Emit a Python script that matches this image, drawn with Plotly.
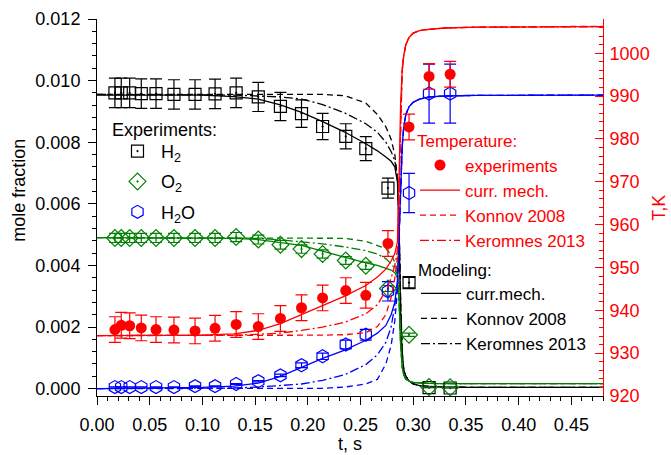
import plotly.graph_objects as go

# ---------------- data ----------------
t_exp = [0.017, 0.023, 0.031, 0.042, 0.056, 0.073, 0.093, 0.112, 0.132, 0.153,
         0.174, 0.194, 0.214, 0.236, 0.255, 0.276, 0.296, 0.315, 0.335]
h2_exp = [0.0096, 0.0096, 0.0096, 0.00958, 0.00958, 0.00955, 0.00955, 0.00957, 0.0096, 0.00947,
          0.00916, 0.00893, 0.00851, 0.00819, 0.00779, 0.00651, 0.00344, 0.00003, 0.00002]
o2_exp = [0.00489, 0.00489, 0.00489, 0.00489, 0.00489, 0.00489, 0.00489, 0.00489, 0.00492, 0.00484,
          0.00467, 0.00453, 0.00437, 0.00416, 0.00399, 0.00325, 0.00175, 0.00005, 0.00004]
h2o_exp = [0.00005, 0.00005, 0.00005, 0.00005, 0.00005, 0.00005, 0.00008, 0.00008, 0.00015, 0.00024,
           0.00043, 0.00076, 0.00105, 0.00143, 0.00175, 0.00316, 0.00635, 0.00958, 0.00958]
T_exp = [935.5, 936.5, 936.4, 935.9, 935.5, 935.4, 935.2, 935.8, 936.7, 936.2,
         938.1, 940.6, 942.9, 944.6, 943.5, 955.6, 982.8, 994.6, 995.1]

h2_err_pct = 5
o2_err_pct = 3
h2o_err_pct = 10
T_err = 3

t_mod = [0.0, 0.10, 0.13, 0.153, 0.174, 0.194, 0.214, 0.235, 0.255, 0.266, 0.274, 0.279, 0.2825,
         0.285, 0.2865, 0.288, 0.2895, 0.291, 0.293, 0.296, 0.300, 0.306, 0.315, 0.33, 0.36, 0.48]

h2_curr = [0.00953, 0.00953, 0.00948, 0.0094, 0.00921, 0.00897, 0.00867, 0.00833, 0.00795, 0.00772,
           0.00752, 0.00738, 0.0072, 0.0067, 0.0052, 0.0025, 0.0011, 0.0006, 0.0004, 0.00025,
           0.00015, 0.0001, 0.00007, 0.00005, 0.00004, 0.00004]
h2_konnov = [0.00955, 0.00955, 0.00955, 0.00955, 0.00955, 0.00955, 0.00955, 0.00951, 0.00927, 0.0089,
             0.0085, 0.0081, 0.0076, 0.0068, 0.0055, 0.003, 0.0012, 0.0006, 0.0004, 0.00025,
             0.00015, 0.0001, 0.00007, 0.00005, 0.00004, 0.00004]
h2_keromnes = [0.00955, 0.00955, 0.00953, 0.0095, 0.00947, 0.0094, 0.00922, 0.00895, 0.0086, 0.00832,
               0.008, 0.0077, 0.0074, 0.0069, 0.0054, 0.0028, 0.0012, 0.0006, 0.0004, 0.00025,
               0.00015, 0.0001, 0.00007, 0.00005, 0.00004, 0.00004]

o2_curr = [0.0049, 0.0049, 0.00488, 0.00484, 0.00475, 0.00465, 0.00446, 0.00426, 0.00408, 0.004,
           0.00392, 0.00385, 0.00376, 0.0036, 0.0029, 0.0014, 0.0007, 0.00045, 0.0003, 0.00024,
           0.0002, 0.00018, 0.00017, 0.00016, 0.00016, 0.00016]
o2_konnov = [0.0049, 0.0049, 0.0049, 0.0049, 0.0049, 0.0049, 0.0049, 0.00488, 0.00478, 0.00466,
             0.00455, 0.00435, 0.0041, 0.0038, 0.003, 0.0015, 0.0007, 0.00045, 0.0003, 0.00024,
             0.0002, 0.00018, 0.00017, 0.00016, 0.00016, 0.00016]
o2_keromnes = [0.0049, 0.0049, 0.0049, 0.00488, 0.00483, 0.00477, 0.0047, 0.0046, 0.00448, 0.00437,
               0.00422, 0.00405, 0.0039, 0.0037, 0.003, 0.0015, 0.0007, 0.00045, 0.0003, 0.00024,
               0.0002, 0.00018, 0.00017, 0.00016, 0.00016, 0.00016]

h2o_curr = [0.0, 0.00004, 0.00008, 0.00018, 0.0004, 0.0007, 0.00098, 0.00125, 0.00157, 0.0018,
            0.00205, 0.0024, 0.0028, 0.0035, 0.0052, 0.0068, 0.0079, 0.0085, 0.0089, 0.00915,
            0.0093, 0.0094, 0.00947, 0.0095, 0.00952, 0.00953]
h2o_konnov = [0.0, 0.0, 0.0, 0.0, 0.0, 0.0, 0.00001, 0.00005, 0.00015, 0.0003,
              0.0008, 0.0014, 0.0022, 0.0032, 0.0048, 0.0066, 0.0078, 0.0085, 0.0089, 0.00915,
              0.0093, 0.0094, 0.00947, 0.0095, 0.00952, 0.00953]
h2o_keromnes = [0.0, 0.0, 0.00002, 0.00005, 0.0001, 0.00015, 0.00027, 0.00045, 0.00078, 0.0011,
                0.0015, 0.002, 0.0027, 0.0034, 0.0049, 0.0067, 0.0078, 0.0085, 0.0089, 0.00915,
                0.0093, 0.0094, 0.00947, 0.0095, 0.00952, 0.00953]

T_curr = [934.1, 934.2, 934.5, 935.3, 936.9, 939.0, 941.0, 943.3, 945.8, 947.8,
          949.6, 951.5, 953.2, 956.0, 970.0, 988.0, 996.0, 999.5, 1002.0, 1003.7,
          1004.7, 1005.3, 1005.6, 1005.9, 1006.1, 1006.2]
T_konnov = [934.1, 934.1, 934.1, 934.1, 934.1, 934.1, 934.2, 934.3, 934.8, 936.2,
            939.0, 943.0, 947.5, 952.5, 968.0, 987.0, 996.0, 999.5, 1002.0, 1003.7,
            1004.7, 1005.3, 1005.6, 1005.9, 1006.1, 1006.3]
T_keromnes = [934.1, 934.1, 934.2, 934.4, 934.7, 935.3, 936.1, 937.2, 939.2, 941.3,
              944.6, 947.5, 950.5, 954.0, 969.0, 987.5, 996.0, 999.5, 1002.0, 1003.7,
              1004.7, 1005.3, 1005.6, 1005.9, 1006.1, 1006.2]

model_names_T = ["curr. mech.", "Konnov 2008", "Keromnes 2013"]
model_names_M = ["curr.mech.", "Konnov 2008", "Keromnes 2013"]

# ---------------- styles ----------------
BLACK = "#000000"
GREEN = "#008000"
BLUE = "#0000ff"
RED = "#ff0000"
DASHES = ["solid", "6px,4px", "9px,3px,2px,3px"]
LW = 1.3
FONT = "Liberation Sans, Arial, sans-serif"

fig = go.Figure()

# model curves (drawn first)
species_models = [
    (h2_curr, h2_konnov, h2_keromnes, BLACK, True),
    (o2_curr, o2_konnov, o2_keromnes, GREEN, False),
    (h2o_curr, h2o_konnov, h2o_keromnes, BLUE, False),
]
for curves_a, curves_b, curves_c, col, show in species_models:
    for i, ys in enumerate([curves_a, curves_b, curves_c]):
        fig.add_trace(go.Scatter(
            x=t_mod, y=ys, mode="lines",
            line=dict(color=col, width=LW, dash=DASHES[i]),
            name=model_names_M[i], showlegend=show, legend="legend3",
            hoverinfo="skip"))

T_models = [T_curr, T_konnov, T_keromnes]

# experiments (species)
exp_sets = [
    (h2_exp, h2_err_pct, "square-open-dot", 12, BLACK, "H<sub>2</sub>"),
    (o2_exp, o2_err_pct, "diamond-open-dot", 13, GREEN, "O<sub>2</sub>"),
    (h2o_exp, h2o_err_pct, "hexagon-open", 13, BLUE, "H<sub>2</sub>O"),
]
for k, (ys, pct, sym, sz, col, nm) in enumerate(exp_sets):
    fig.add_trace(go.Scatter(
        x=t_exp, y=ys, mode="markers", name=nm, legend="legend", legendgroup="exp%d" % k,
        marker=dict(symbol=sym, size=sz, color=col, line=dict(color=col, width=1.2)),
        error_y=dict(type="percent", value=pct, color=col, thickness=1.2, width=6)))

# temperature experiments + models on secondary axis
fig.add_trace(go.Scatter(
    x=t_exp, y=T_exp, mode="markers", name="experiments", yaxis="y2", legend="legend2",
    marker=dict(symbol="circle", size=11, color=RED),
    error_y=dict(type="constant", value=T_err, color=RED, thickness=1.2, width=6)))
for i, ys in enumerate(T_models):
    fig.add_trace(go.Scatter(
        x=t_mod, y=ys, mode="lines", yaxis="y2", legend="legend2",
        line=dict(color=RED, width=LW, dash=DASHES[i]),
        name=model_names_T[i], hoverinfo="skip"))

# ---------------- layout ----------------
W, H = 671, 455
L, R, T, B = 97, 68, 19, 58.5
pw, ph = W - L - R, H - T - B


def px(x):
    return (x - L) / pw


def py(y):
    return (H - B - y) / ph


leg_common = dict(bgcolor="rgba(0,0,0,0)", borderwidth=0, xanchor="left", yanchor="top")

fig.update_layout(
    width=W, height=H,
    margin=dict(l=L, r=R, t=T, b=B, pad=0, autoexpand=False),
    plot_bgcolor="white", paper_bgcolor="white",
    font=dict(family=FONT, size=18, color="black"),
    xaxis=dict(
        range=[0, 0.48], dtick=0.05, tick0=0, tickformat=".2f", automargin=False,
        showline=True, linecolor="black", linewidth=1, mirror=False,
        ticks="outside", ticklen=8, tickcolor="black", tickwidth=1, ticklabelstandoff=4,
        minor=dict(dtick=0.01, ticks="outside", ticklen=4, tickcolor="black"),
        showgrid=False, zeroline=False,
    ),
    yaxis=dict(
        range=[-0.00024, 0.012], dtick=0.002, tick0=0, tickformat=".3f", automargin=False,
        showline=True, linecolor="black", linewidth=1,
        ticks="outside", ticklen=8, tickcolor="black", ticklabelstandoff=4,
        minor=dict(dtick=0.0004, ticks="outside", ticklen=4, tickcolor="black"),
        showgrid=False, zeroline=False,
    ),
    yaxis2=dict(
        overlaying="y", side="right", anchor="x", automargin=False,
        range=[920, 1008], dtick=10, tick0=920,
        showline=True, linecolor=RED, linewidth=1,
        ticks="inside", ticklen=8, tickcolor=RED, ticklabelstandoff=2,
        minor=dict(dtick=2, ticks="inside", ticklen=4, tickcolor=RED),
        tickfont=dict(color=RED, size=18),
        showgrid=False, zeroline=False,
    ),
    legend=dict(x=px(114), y=py(133), font=dict(size=18, color="black"),
                traceorder="grouped", tracegroupgap=4, itemwidth=37, **leg_common),
    legend2=dict(x=px(415), y=py(125.5), font=dict(size=17, color=RED),
                 title=dict(text="Temperature:", font=dict(size=17, color=RED)),
                 traceorder="normal", itemwidth=40, **leg_common),
    legend3=dict(x=px(416), y=py(254), font=dict(size=17, color="black"),
                 title=dict(text="Modeling:", font=dict(size=17, color="black")),
                 traceorder="normal", itemwidth=40, **leg_common),
    showlegend=True,
    annotations=[
        dict(text="Experiments:", xref="paper", yref="paper", x=px(110), y=py(130),
             showarrow=False, xanchor="left", yanchor="middle", font=dict(size=18)),
        dict(text="t, s", xref="paper", yref="paper", x=px(350), y=py(445),
             showarrow=False, xanchor="center", yanchor="middle", font=dict(size=18)),
        dict(text="mole fraction", xref="paper", yref="paper", x=px(19), y=py(191),
             showarrow=False, xanchor="center", yanchor="middle", textangle=-90,
             font=dict(size=18)),
        dict(text="T,K", xref="paper", yref="paper", x=px(671), y=py(208),
             showarrow=False, xanchor="right", yanchor="middle", textangle=-90,
             font=dict(size=18, color=RED)),
    ],
)

fig.write_html("out.html", config={"displayModeBar": False},
               post_script="document.body.style.margin='0';document.body.style.padding='0';")
